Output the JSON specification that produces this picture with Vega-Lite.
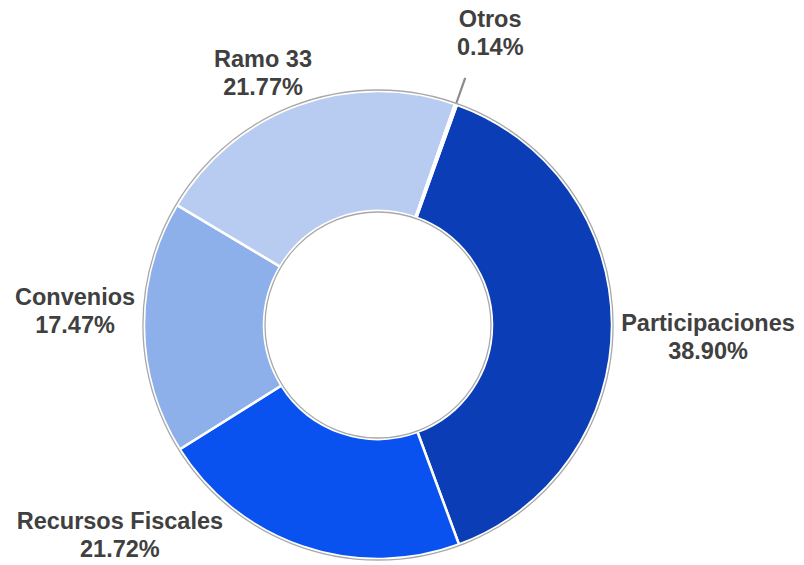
{
  "$schema": "https://vega.github.io/schema/vega-lite/v6.json",
  "autosize": "none",
  "width": 756,
  "height": 470,
  "padding": {"left": 0, "right": 48, "top": 90, "bottom": 5},
  "background": "white",
  "config": {"view": {"stroke": null}},
  "data": {"values": [
    {"category": "Participaciones", "value": 38.90, "idx": 1},
    {"category": "Recursos Fiscales", "value": 21.72, "idx": 2},
    {"category": "Convenios", "value": 17.47, "idx": 3},
    {"category": "Ramo 33", "value": 21.77, "idx": 4},
    {"category": "Otros", "value": 0.14, "idx": 5}
  ]},
  "transform": [
    {"calculate": "[datum.category, format(datum.value, '.2f') + '%']", "as": "label"}
  ],
  "encoding": {
    "theta": {"field": "value", "type": "quantitative", "stack": true, "scale": {"range": [0.344, 6.627]}},
    "order": {"field": "idx", "type": "quantitative"}
  },
  "layer": [
    {
      "mark": {"type": "arc", "radius": 262, "radius2": 234, "fill": "#8c8c8c", "strokeWidth": 0},
      "encoding": {
        "opacity": {"condition": {"test": "datum.category === 'Otros'", "value": 1}, "value": 0}
      }
    },
    {
      "mark": {"type": "arc", "radius": 234, "radius2": 114, "stroke": "white", "strokeWidth": 2.5},
      "encoding": {
        "color": {
          "field": "category", "type": "nominal", "legend": null,
          "scale": {
            "domain": ["Participaciones", "Recursos Fiscales", "Convenios", "Ramo 33", "Otros"],
            "range": ["#0b3db6", "#0a52f0", "#8eb0ea", "#b8cbf0", "#dcdcdc"]
          }
        }
      }
    },
    {
      "data": {"values": [{"ring": 1}]},
      "transform": [],
      "mark": {"type": "arc", "theta": 0, "theta2": 6.2832, "radius": 235, "radius2": 113, "fill": null, "stroke": "#a8a8a8", "strokeWidth": 1.3},
      "encoding": {"theta": null, "order": null}
    },
    {
      "mark": {"type": "text", "radius": 310, "dx": 20, "dy": 0, "font": "Liberation Sans", "fontSize": 23.5, "fontWeight": "bold", "fill": "#404040", "lineHeight": 28, "align": "center", "baseline": "middle"},
      "encoding": {"text": {"field": "label"}, "opacity": {"condition": {"test": "datum.category === 'Participaciones'", "value": 1}, "value": 0}}
    },
    {
      "mark": {"type": "text", "radius": 310, "dx": -158, "dy": -96, "font": "Liberation Sans", "fontSize": 23.5, "fontWeight": "bold", "fill": "#404040", "lineHeight": 28, "align": "center", "baseline": "middle"},
      "encoding": {"text": {"field": "label"}, "opacity": {"condition": {"test": "datum.category === 'Recursos Fiscales'", "value": 1}, "value": 0}}
    },
    {
      "mark": {"type": "text", "radius": 310, "dx": 7, "dy": -30, "font": "Liberation Sans", "fontSize": 23.5, "fontWeight": "bold", "fill": "#404040", "lineHeight": 28, "align": "center", "baseline": "middle"},
      "encoding": {"text": {"field": "label"}, "opacity": {"condition": {"test": "datum.category === 'Convenios'", "value": 1}, "value": 0}}
    },
    {
      "mark": {"type": "text", "radius": 310, "dx": -9, "dy": 26, "font": "Liberation Sans", "fontSize": 23.5, "fontWeight": "bold", "fill": "#404040", "lineHeight": 28, "align": "center", "baseline": "middle"},
      "encoding": {"text": {"field": "label"}, "opacity": {"condition": {"test": "datum.category === 'Ramo 33'", "value": 1}, "value": 0}}
    },
    {
      "mark": {"type": "text", "radius": 310, "dx": 9, "dy": -13, "font": "Liberation Sans", "fontSize": 23.5, "fontWeight": "bold", "fill": "#404040", "lineHeight": 28, "align": "center", "baseline": "middle"},
      "encoding": {"text": {"field": "label"}, "opacity": {"condition": {"test": "datum.category === 'Otros'", "value": 1}, "value": 0}}
    }
  ]
}
